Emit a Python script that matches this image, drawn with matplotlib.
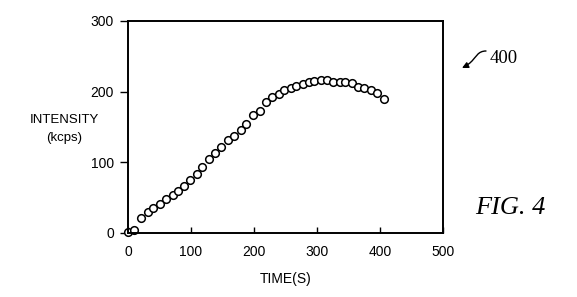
import matplotlib.pyplot as plt
from matplotlib.patches import FancyArrowPatch
from matplotlib.path import Path

# values
time_s = [0, 10, 21, 31, 40, 51, 61, 71, 80, 89, 99, 109, 118, 129, 138, 148, 158, 169,
          179, 188, 199, 209, 219, 229, 239, 248, 258, 267, 278, 287, 296, 307, 316, 325,
          336, 345, 355, 365, 375, 385, 396, 406]
intensity = [2, 4, 21, 30, 36, 41, 48, 54, 59, 67, 75, 84, 93, 105, 113, 122, 131, 137,
             146, 154, 167, 173, 186, 192, 197, 202, 205, 208, 211, 213, 215, 216, 216, 214,
             213, 213, 212, 207, 205, 202, 198, 190]
x_ticks = [0, 100, 200, 300, 400, 500]
y_ticks = [0, 100, 200, 300]

plt.rcParams['font.family'] = ['Liberation Sans', 'DejaVu Sans']

W, H = 577, 297
fig = plt.figure(figsize=(W / 100, H / 100), dpi=100)
ax = fig.add_axes([128 / W, 1 - 233 / H, 315 / W, 212 / H])

ax.plot(time_s, intensity, 'o', mfc='white', mec='black', ms=5.5, mew=1.1, clip_on=False)

ax.set_xlim(0, 500)
ax.set_ylim(0, 300)
ax.set_xticks(x_ticks)
ax.set_yticks(y_ticks)
ax.tick_params(axis='x', direction='in', length=4, width=1, labelsize=10, pad=9)
ax.tick_params(axis='y', direction='out', length=6, width=1, labelsize=10, pad=4)
for s in ax.spines.values():
    s.set_linewidth(1.4)

ax.set_xlabel('TIME(S)', fontsize=10, labelpad=9)
fig.text(64 / W, 1 - 129 / H, 'INTENSITY\n(kcps)', fontsize=9.5, ha='center', va='center',
         linespacing=1.6)

fig.text(475 / W, 1 - 214 / H, 'FIG. 4', fontsize=19, family='Liberation Serif',
         style='italic', ha='left', va='baseline')
fig.text(490 / W, 1 - 63 / H, '400', fontsize=13.5, family='Liberation Serif',
         ha='left', va='baseline')

# squiggly leader arrow, pixel coords -> figure fraction
pts = [(486, 51), (478, 51), (476, 57), (472, 61), (469, 64), (466, 66), (462, 68)]
pts = [(x / W, 1 - y / H) for x, y in pts]
codes = [Path.MOVETO, Path.CURVE4, Path.CURVE4, Path.CURVE4, Path.CURVE4, Path.CURVE4, Path.CURVE4]
arrow = FancyArrowPatch(path=Path(pts, codes), transform=fig.transFigure,
                        arrowstyle='-|>', mutation_scale=9, lw=1, color='black')
fig.patches.append(arrow)

fig.savefig('out.png', dpi=100)
